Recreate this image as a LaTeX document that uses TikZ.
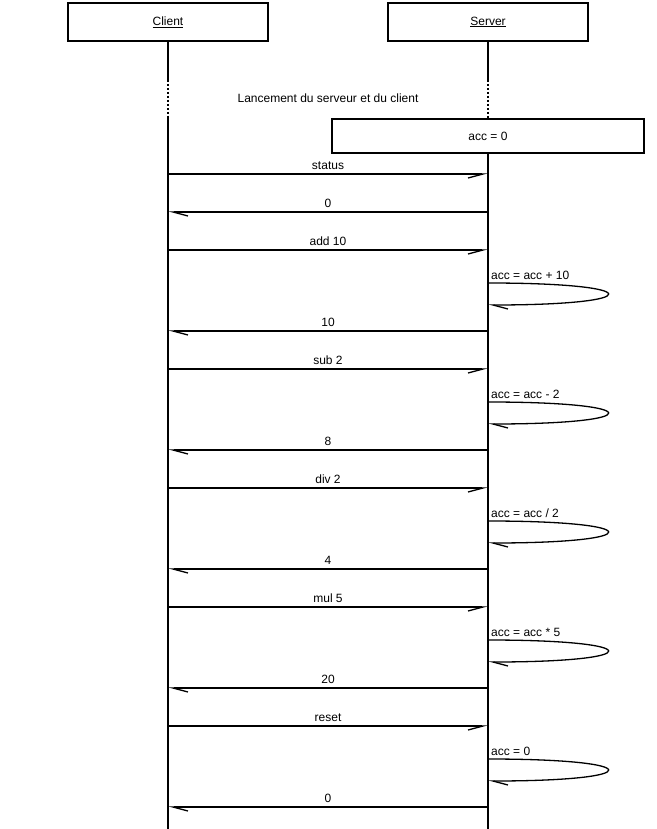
\documentclass[tikz,border=0pt]{standalone}
\usepackage{fontspec}
\setmainfont{Liberation Sans}
\usetikzlibrary{arrows.meta}

\tikzset{
  actor/.style={draw, line width=1.3pt, minimum width=200pt, minimum height=38pt, inner sep=0pt},
  life/.style={line width=1.3pt},
  msgR/.style={line width=1.3pt, -{Straight Barb[right, length=15pt, width=8pt]}},
  msgL/.style={line width=1.3pt, -{Straight Barb[left, length=15pt, width=8pt]}},
  lbl/.style={above, inner sep=4pt},
  step lbl/.style={anchor=south west, inner sep=3pt},
}

\begin{document}
\begin{tikzpicture}[x=1pt, y=-1pt, font=\fontsize{12}{14}\selectfont]
\useasboundingbox (0,0) rectangle (656,829);

    % Acteurs
\node[actor] (client) at (168,22) {\underline{Client}};
\node[actor] (server) at (488,22) {\underline{Server}};
\node (launch) at (328,98) {Lancement du serveur et du client};
\node[draw, line width=1.3pt, minimum width=312pt, minimum height=34pt, inner sep=0pt] (init) at (488,136) {acc = 0};

\coordinate (dotTop) at (0,80);
\coordinate (dotBot) at (0,116);
\coordinate (bottom) at (0,829);

    % Lignes de vie
\draw[life] (client.south) -- (client.south |- dotTop);
\draw[life, dash pattern=on 2pt off 2pt] (client |- dotTop) -- (client |- dotBot);
\draw[life] (client |- dotBot) -- (client |- bottom);
\draw[life] (server.south) -- (server.south |- dotTop);
\draw[life, dash pattern=on 2pt off 2pt] (server |- dotTop) -- (init.north);
\draw[life] (init.south) -- (server |- bottom);

    % status
\coordinate (m1) at (0,174);
\coordinate (m2) at (0,212);
\draw[msgR] (client |- m1) -- node[lbl] {status} (server |- m1);
\draw[msgL] (server |- m2) -- node[lbl] {0} (client |- m2);

    % add 10
\coordinate (m3) at (0,250);
\coordinate (l1a) at (0,283);
\coordinate (l1b) at (0,305);
\coordinate (m4) at (0,331);
\draw[msgR] (client |- m3) -- node[lbl] {add 10} (server |- m3);
\node[step lbl] (t1) at (server |- l1a) {acc = acc + 10};
\draw[msgL] (server |- l1a) .. controls +(160,0) and +(160,0) .. (server |- l1b);
\draw[msgL] (server |- m4) -- node[lbl] {10} (client |- m4);

    % sub 2
\coordinate (m5) at (0,369);
\coordinate (l2a) at (0,402);
\coordinate (l2b) at (0,424);
\coordinate (m6) at (0,450);
\draw[msgR] (client |- m5) -- node[lbl] {sub 2} (server |- m5);
\node[step lbl] (t2) at (server |- l2a) {acc = acc - 2};
\draw[msgL] (server |- l2a) .. controls +(160,0) and +(160,0) .. (server |- l2b);
\draw[msgL] (server |- m6) -- node[lbl] {8} (client |- m6);

    % div 2
\coordinate (m7) at (0,488);
\coordinate (l3a) at (0,521);
\coordinate (l3b) at (0,543);
\coordinate (m8) at (0,569);
\draw[msgR] (client |- m7) -- node[lbl] {div 2} (server |- m7);
\node[step lbl] (t3) at (server |- l3a) {acc = acc / 2};
\draw[msgL] (server |- l3a) .. controls +(160,0) and +(160,0) .. (server |- l3b);
\draw[msgL] (server |- m8) -- node[lbl] {4} (client |- m8);

    % mul 5
\coordinate (m9) at (0,607);
\coordinate (l4a) at (0,640);
\coordinate (l4b) at (0,662);
\coordinate (m10) at (0,688);
\draw[msgR] (client |- m9) -- node[lbl] {mul 5} (server |- m9);
\node[step lbl] (t4) at (server |- l4a) {acc = acc * 5};
\draw[msgL] (server |- l4a) .. controls +(160,0) and +(160,0) .. (server |- l4b);
\draw[msgL] (server |- m10) -- node[lbl] {20} (client |- m10);

    % reset
\coordinate (m11) at (0,726);
\coordinate (l5a) at (0,759);
\coordinate (l5b) at (0,781);
\coordinate (m12) at (0,807);
\draw[msgR] (client |- m11) -- node[lbl] {reset} (server |- m11);
\node[step lbl] (t5) at (server |- l5a) {acc = 0};
\draw[msgL] (server |- l5a) .. controls +(160,0) and +(160,0) .. (server |- l5b);
\draw[msgL] (server |- m12) -- node[lbl] {0} (client |- m12);

\end{tikzpicture}
\end{document}
